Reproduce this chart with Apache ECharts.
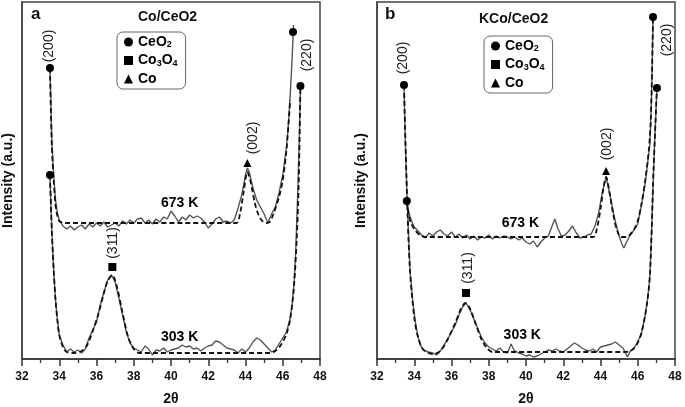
<!DOCTYPE html>
<html><head><meta charset="utf-8">
<script src="https://cdn.jsdelivr.net/npm/echarts@6/dist/echarts.min.js"></script>
<style>html,body{margin:0;padding:0;background:#fff}#c{width:685px;height:407px}</style>
</head><body><div id="c"></div><script>
// ---------- data (2θ, intensity a.u.) ----------
const xTicks = [32, 34, 36, 38, 40, 42, 44, 46, 48];
const panelTitles = ['Co/CeO2', 'KCo/CeO2'];
const panelLetters = ['a', 'b'];
const phaseNames = ['CeO2', 'Co3O4', 'Co'];

// panel a, Co/CeO2
const a673Measured = [[33.5,291],[33.55,259],[33.6,219],[33.7,184],[33.8,159],[33.9,146],[34.0,139],[34.2,133],[34.4,130],[34.6,133],[34.8,129],[35.0,132],[35.2,134],[35.4,130],[35.6,135],[35.8,132],[36.0,136],[36.2,133],[36.4,137],[36.6,132],[36.8,134],[37.0,136],[37.2,133],[37.4,138],[37.6,135],[37.8,139],[38.0,136],[38.2,140],[38.4,141],[38.6,136],[38.8,139],[39.0,135],[39.2,140],[39.4,137],[39.6,142],[39.8,140],[40.0,148],[40.2,143],[40.4,137],[40.6,142],[40.8,139],[41.0,144],[41.2,141],[41.4,143],[41.6,141],[41.8,137],[42.0,131],[42.2,135],[42.4,140],[42.6,142],[42.8,137],[43.0,138],[43.2,136],[43.4,139],[43.6,151],[43.8,164],[44.0,184],[44.1,191],[44.2,187],[44.4,171],[44.6,159],[44.8,152],[45.0,145],[45.2,136],[45.4,145],[45.6,152],[45.8,166],[46.0,184],[46.2,212],[46.3,234],[46.4,264],[46.5,299],[46.58,334]];
const a673Fit = [[33.5,291],[33.6,214],[33.7,179],[33.8,154],[33.9,143],[34.0,138],[34.3,136],[43.5,136],[43.7,145],[43.9,167],[44.1,187],[44.3,175],[44.5,156],[44.7,144],[44.9,138],[45.1,136],[45.3,137],[45.5,145],[45.8,162],[46.0,179],[46.2,209],[46.4,259]];
const a303Measured = [[33.5,184],[33.6,129],[33.7,89],[33.8,59],[33.9,39],[34.0,24],[34.2,14],[34.4,7],[34.6,10],[34.8,7],[35.0,9],[35.2,6],[35.4,10],[35.6,21],[35.8,29],[36.0,37],[36.2,54],[36.4,67],[36.6,79],[36.8,84],[37.0,77],[37.2,61],[37.4,44],[37.6,27],[37.8,16],[38.0,11],[38.2,9],[38.4,7],[38.6,13],[38.8,10],[39.0,4],[39.2,9],[39.4,8],[39.6,11],[39.8,7],[40.0,9],[40.2,10],[40.4,11],[40.6,14],[40.8,12],[41.0,13],[41.2,10],[41.4,11],[41.6,8],[41.8,11],[42.0,13],[42.2,14],[42.4,18],[42.6,17],[42.8,14],[43.0,11],[43.2,10],[43.4,9],[43.6,6],[43.8,10],[44.0,7],[44.2,11],[44.4,17],[44.6,21],[44.8,19],[45.0,15],[45.2,11],[45.4,7],[45.6,9],[45.8,15],[46.0,21],[46.2,27],[46.4,41],[46.5,54],[46.6,74],[46.7,109],[46.8,164],[46.9,229],[46.95,273]];
const a303Fit = [[33.5,184],[33.6,129],[33.7,89],[33.8,59],[33.9,39],[34.0,24],[34.2,12],[34.4,7],[34.8,6],[35.2,8],[35.5,14],[35.8,28],[36.1,45],[36.4,66],[36.6,78],[36.85,84],[37.1,72],[37.4,46],[37.7,22],[38.0,10],[38.3,6],[45.3,6],[45.6,8],[45.9,14],[46.2,25],[46.4,40],[46.6,72],[46.75,120],[46.85,170],[46.95,273]];
const aCeO2 = [[33.5,291],[33.5,184],[46.55,327],[46.95,273]];
const aCo3O4 = [[36.85,92]];
const aCo = [[44.1,196]];
const aHkl = [['(200)',33.45,313],['(220)',47.3,304],['(311)',36.9,116],['(002)',44.4,221]];
const aTemps = [['673 K',40.46,156],['303 K',40.46,22]];

// panel b, KCo/CeO2
const b673Measured = [[33.6,158],[33.7,147],[33.8,141],[33.9,136],[34.0,132],[34.2,128],[34.4,124],[34.6,121],[34.8,126],[35.0,123],[35.2,127],[35.4,129],[35.6,125],[35.8,123],[36.0,127],[36.2,122],[36.4,125],[36.6,121],[36.8,124],[37.0,120],[37.2,123],[37.4,119],[37.6,122],[37.8,121],[38.0,124],[38.2,120],[38.4,123],[38.6,121],[38.8,123],[39.0,122],[39.2,120],[39.4,122],[39.6,119],[39.8,121],[40.0,117],[40.2,115],[40.4,118],[40.6,112],[40.8,117],[41.0,121],[41.2,123],[41.4,133],[41.55,140],[41.7,131],[41.9,123],[42.1,124],[42.3,128],[42.5,133],[42.7,126],[42.9,121],[43.1,122],[43.3,124],[43.5,125],[43.7,133],[43.9,146],[44.1,167],[44.3,182],[44.45,169],[44.6,155],[44.8,137],[45.0,123],[45.15,115],[45.25,111],[45.4,117],[45.6,124],[45.8,129],[46.0,135],[46.2,154],[46.4,176],[46.55,199],[46.65,214],[46.72,249],[46.77,289],[46.82,342]];
const b673Fit = [[33.6,158],[33.7,145],[33.8,137],[34.0,130],[34.3,124],[34.6,122],[43.6,122],[43.8,130],[44.0,150],[44.15,170],[44.3,182],[44.5,165],[44.7,143],[44.9,128],[45.1,122],[45.4,122],[45.7,127],[45.95,135],[46.2,155],[46.4,178],[46.6,210],[46.7,240],[46.77,290],[46.82,342]];
const b303Measured = [[33.45,274],[33.5,230],[33.6,170],[33.7,120],[33.77,89],[33.93,56],[34.05,38],[34.2,22],[34.35,13],[34.5,9],[34.75,7],[35.0,6],[35.2,4],[35.4,8],[35.6,14],[35.8,20],[36.0,27],[36.2,34],[36.4,44],[36.6,52],[36.78,56],[37.0,49],[37.2,40],[37.4,31],[37.6,22],[37.8,16],[38.0,12],[38.2,10],[38.4,8],[38.6,11],[38.8,7],[39.0,6],[39.2,15],[39.35,9],[39.6,6],[39.8,5],[40.0,3],[40.2,4],[40.4,2],[40.6,3],[40.8,5],[41.0,7],[41.2,9],[41.4,8],[41.6,10],[41.8,8],[42.0,7],[42.2,10],[42.4,13],[42.6,16],[42.8,14],[43.0,11],[43.2,9],[43.4,8],[43.6,10],[43.8,7],[44.0,12],[44.2,13],[44.4,14],[44.6,15],[44.8,17],[45.0,14],[45.2,11],[45.35,6],[45.45,2],[45.6,8],[45.8,11],[46.0,17],[46.2,26],[46.4,44],[46.5,56],[46.6,72],[46.66,86],[46.75,130],[46.85,190],[46.95,235],[47.03,271]];
const b303Fit = [[33.45,274],[33.6,170],[33.77,89],[34.0,42],[34.2,22],[34.5,9],[35.0,5],[35.4,8],[35.8,20],[36.2,36],[36.5,50],[36.75,56],[37.0,50],[37.3,35],[37.6,20],[37.9,11],[38.2,7],[45.3,7],[45.6,8],[45.9,13],[46.2,26],[46.5,56],[46.66,86],[46.85,190],[47.03,271]];
const bCeO2 = [[33.45,274],[33.6,158],[46.82,342],[47.03,271]];
const bCo3O4 = [[36.78,66]];
const bCo = [[44.3,188]];
const bHkl = [['(200)',33.4,301],['(220)',47.6,319],['(311)',36.9,91],['(002)',44.35,215]];
const bTemps = [['673 K',39.7,136],['303 K',39.8,24]];

// ---------- chart ----------
const panels = [
  {m673:a673Measured, f673:a673Fit, m303:a303Measured, f303:a303Fit, ce:aCeO2, co3:aCo3O4, co:aCo, hkl:aHkl, temps:aTemps},
  {m673:b673Measured, f673:b673Fit, m303:b303Measured, f303:b303Fit, ce:bCeO2, co3:bCo3O4, co:bCo, hkl:bHkl, temps:bTemps}
];
const FONT = '"Liberation Sans", Arial, Helvetica, sans-serif';
const grids = [
  {left:22, right:365, top:2, bottom:48},
  {left:377, right:10, top:2, bottom:48}
];
const chart = echarts.init(document.getElementById('c'), null, {renderer:'canvas'});
const series = [];
panels.forEach((p, i) => {
  const base = {xAxisIndex:i, yAxisIndex:i, type:'line', symbol:'none', animation:false};
  series.push(Object.assign({}, base, {data:p.m673, lineStyle:{color:'#555', width:1.4}, z:2}));
  series.push(Object.assign({}, base, {data:p.m303, lineStyle:{color:'#555', width:1.4}, z:2}));
  series.push(Object.assign({}, base, {data:p.f673, smooth:0.3, lineStyle:{color:'#111', width:1.8, type:[5,3]}, z:3}));
  series.push(Object.assign({}, base, {data:p.f303, smooth:0.3, lineStyle:{color:'#111', width:1.8, type:[5,3]}, z:3}));
  const sc = {xAxisIndex:i, yAxisIndex:i, type:'scatter', animation:false, itemStyle:{color:'#000', opacity:1}, z:5};
  series.push(Object.assign({}, sc, {name:'CeO2', data:p.ce, symbol:'circle', symbolSize:8}));
  series.push(Object.assign({}, sc, {name:'Co3O4', data:p.co3, symbol:'rect', symbolSize:8}));
  series.push(Object.assign({}, sc, {name:'Co', data:p.co, symbol:'triangle', symbolSize:8}));
  series.push({xAxisIndex:i, yAxisIndex:i, type:'scatter', animation:false, symbolSize:0, silent:true, z:6,
    itemStyle:{opacity:1},
    data:p.hkl.map(h => ({name:h[0], value:[h[1], h[2]]})),
    label:{show:true, position:'inside', rotate:90, formatter:'{b}', color:'#222', opacity:1, fontSize:14, fontFamily:FONT}});
  series.push({xAxisIndex:i, yAxisIndex:i, type:'scatter', animation:false, symbolSize:0, silent:true, z:6,
    itemStyle:{opacity:1},
    data:p.temps.map(h => ({name:h[0], value:[h[1], h[2]]})),
    label:{show:true, position:'inside', formatter:'{b}', color:'#000', opacity:1, fontSize:14, fontWeight:'bold', fontFamily:FONT}});
});
const legendFmt = n => ({CeO2:'{m|CeO}{s|2}', Co3O4:'{m|Co}{s|3}{m|O}{s|4}', Co:'{m|Co}'})[n];
const legendCommon = {orient:'vertical', data:phaseNames, formatter:legendFmt, itemWidth:9, itemHeight:9, itemGap:4,
  borderColor:'#666', borderWidth:1, borderRadius:6, padding:[3,8,3,7], selectedMode:false,
  itemStyle:{opacity:1},
  textStyle:{color:'#000', fontFamily:FONT, fontWeight:'bold', fontSize:14,
    rich:{m:{fontSize:14, fontWeight:'bold', fontFamily:FONT, color:'#000'},
          s:{fontSize:9, fontWeight:'bold', fontFamily:FONT, color:'#000', verticalAlign:'bottom', padding:[6,0,0,0]}}}};
const option = {
  backgroundColor:'#fff',
  animation:false,
  grid: grids.map(g => Object.assign({show:true, borderColor:'#444', borderWidth:1.5, backgroundColor:'transparent',
    containLabel:false, outerBoundsMode:'none'}, g)),
  legend:[Object.assign({left:117, top:32}, legendCommon), Object.assign({left:484, top:36}, legendCommon)],
  xAxis:[0,1].map(i => ({gridIndex:i, type:'value', min:xTicks[0], max:xTicks[xTicks.length-1], interval:2,
    axisLine:{show:true, lineStyle:{color:'#333', width:1.5}},
    axisTick:{show:true, length:7, lineStyle:{color:'#333', width:1.5}},
    minorTick:{show:true, splitNumber:2, length:4, lineStyle:{color:'#333', width:1.3}},
    splitLine:{show:false},
    axisLabel:{color:'#111', fontFamily:FONT, fontWeight:'bold', fontSize:12, margin:12},
    name:'2θ', nameLocation:'middle', nameGap:33,
    nameTextStyle:{color:'#111', fontFamily:FONT, fontWeight:'bold', fontSize:14}})),
  yAxis:[0,1].map(i => ({gridIndex:i, type:'value', min:0, max:357,
    axisLine:{show:true, lineStyle:{color:'#444', width:1.5}},
    axisTick:{show:false}, axisLabel:{show:false}, splitLine:{show:false},
    name:'Intensity (a.u.)', nameLocation:'middle', nameGap:[7,9][i], nameRotate:90,
    nameTextStyle:{color:'#111', fontFamily:FONT, fontWeight:'bold', fontSize:14}})),
  graphic:[
    {type:'text', left:31, top:6, style:{text:panelLetters[0], font:'bold 17px '+FONT, fill:'#111'}},
    {type:'text', left:385, top:6, style:{text:panelLetters[1], font:'bold 17px '+FONT, fill:'#111'}},
    {type:'text', left:138, top:10, style:{text:panelTitles[0], font:'bold 14px '+FONT, fill:'#111'}},
    {type:'text', left:479, top:12, style:{text:panelTitles[1], font:'bold 14px '+FONT, fill:'#111'}}
  ],
  series
};
chart.setOption(option);
</script></body></html>
